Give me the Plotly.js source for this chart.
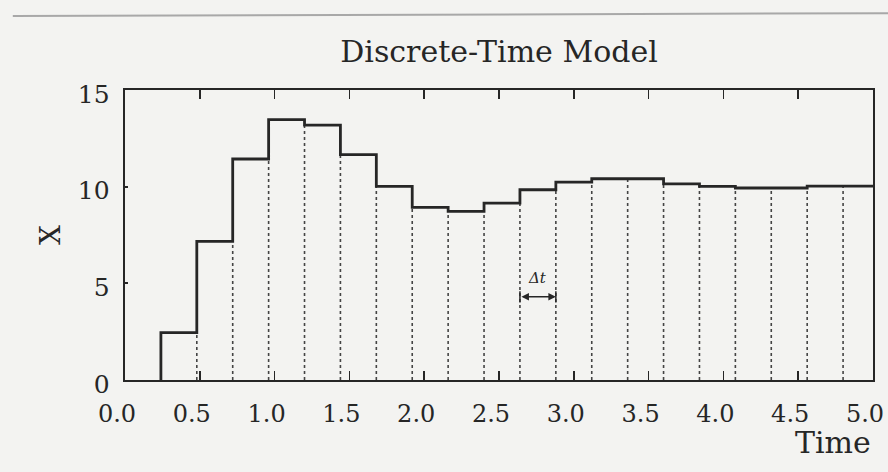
<!DOCTYPE html>
<html>
<head>
<meta charset="utf-8">
<script src="https://cdn.plot.ly/plotly-3.0.1.min.js"></script>
<style>
  html, body { margin: 0; padding: 0; background: #f3f3f1; }
  #chart { width: 888px; height: 472px; }
</style>
</head>
<body>
<div id="chart"></div>
<script>
// Step edges (start of each discrete interval, plus the end of the last one), Δt = 0.24
const timeEdges = [0.24, 0.48, 0.72, 0.96, 1.20, 1.44, 1.68, 1.92, 2.16, 2.40, 2.64,
                   2.88, 3.12, 3.36, 3.60, 3.84, 4.08, 4.32, 4.56, 4.80, 5.04];
// X value held during each interval
const xValues = [2.45, 7.17, 11.43, 13.47, 13.18, 11.66, 10.02, 8.93, 8.72, 9.15,
                 9.84, 10.24, 10.41, 10.41, 10.14, 10.02, 9.93, 9.93, 10.03, 10.03];
const xTickVals = [0, 0.5, 1, 1.5, 2, 2.5, 3, 3.5, 4, 4.5, 5];
const xTickText = ['0.0', '0.5', '1.0', '1.5', '2.0', '2.5', '3.0', '3.5', '4.0', '4.5', '5.0'];
const yTickVals = [0, 5, 10, 15];
const dtIndex = 10; // interval marked with the Δt arrow

const ink = '#262626';
const font = 'DejaVu Serif, Liberation Serif, serif';

// Step outline
const stepX = [timeEdges[0]].concat(timeEdges);
const stepY = [0].concat(xValues, [xValues[xValues.length - 1]]);

// Dotted interior boundaries
const dotX = [], dotY = [];
for (let i = 1; i < xValues.length; i++) {
  dotX.push(timeEdges[i], timeEdges[i], null);
  dotY.push(0, Math.min(xValues[i - 1], xValues[i]), null);
}

const dtY = 4.3;
const traces = [
  { x: dotX, y: dotY, mode: 'lines', hoverinfo: 'skip',
    line: { color: '#444', width: 1.6, dash: 'dot' } },
  { x: stepX, y: stepY, mode: 'lines', line: { color: ink, width: 2.8, shape: 'hv' } },
  { x: [timeEdges[dtIndex], timeEdges[dtIndex + 1]], y: [dtY, dtY], mode: 'markers',
    marker: { symbol: 'line-ns', size: 8, line: { color: ink, width: 1.5 } }, hoverinfo: 'skip' }
];

const layout = {
  width: 888, height: 472,
  margin: { l: 125, r: 15, t: 90, b: 92 },
  paper_bgcolor: '#f3f3f1', plot_bgcolor: '#f3f3f1',
  showlegend: false,
  title: { text: 'Discrete-Time Model', x: 0.5, xref: 'paper', xanchor: 'center',
           y: 0.89, yref: 'container', yanchor: 'middle',
           font: { family: font, size: 30, color: ink } },
  xaxis: {
    range: [0, 5], tickvals: xTickVals, ticktext: xTickText,
    ticks: 'inside', ticklen: 9, tickwidth: 1.5, tickcolor: ink,
    showline: true, linecolor: ink, linewidth: 2.4, mirror: 'ticks',
    showgrid: false, zeroline: false,
    ticklabelstandoff: 11, ticklabelshift: -8,
    tickfont: { family: font, size: 24, color: ink }
  },
  yaxis: {
    range: [0, 15], tickvals: yTickVals,
    ticks: 'inside', ticklen: 3, tickwidth: 2, tickcolor: ink,
    showline: true, linecolor: ink, linewidth: 2.4, mirror: true,
    showgrid: false, zeroline: false,
    ticklabelstandoff: 8, ticklabelshift: 4,
    tickfont: { family: font, size: 25, color: ink },
    title: { text: 'X', standoff: 9, font: { family: font, size: 28, color: ink } }
  },
  annotations: [
    { text: 'Time', xref: 'paper', yref: 'paper', x: 1, y: -0.215,
      xanchor: 'right', yanchor: 'middle', showarrow: false,
      font: { family: font, size: 30, color: ink } },
    { text: '<i>Δt</i>', xref: 'x', yref: 'y',
      x: (timeEdges[dtIndex] + timeEdges[dtIndex + 1]) / 2, y: 5.3,
      showarrow: false, font: { family: font, size: 15, color: ink } },
    { xref: 'x', yref: 'y', axref: 'x', ayref: 'y',
      x: timeEdges[dtIndex + 1], y: dtY, ax: timeEdges[dtIndex], ay: dtY,
      text: '', showarrow: true, arrowside: 'end+start', arrowhead: 2,
      arrowsize: 1, arrowwidth: 1.5, arrowcolor: ink, standoff: 0, startstandoff: 0 }
  ],
  shapes: [
    { type: 'line', xref: 'paper', yref: 'paper', x0: -0.15, x1: 1.03, y0: 1.255, y1: 1.265,
      line: { color: '#a8a8a8', width: 2 } }
  ]
};

Plotly.newPlot('chart', traces, layout, { staticPlot: true, displayModeBar: false });
</script>
</body>
</html>
